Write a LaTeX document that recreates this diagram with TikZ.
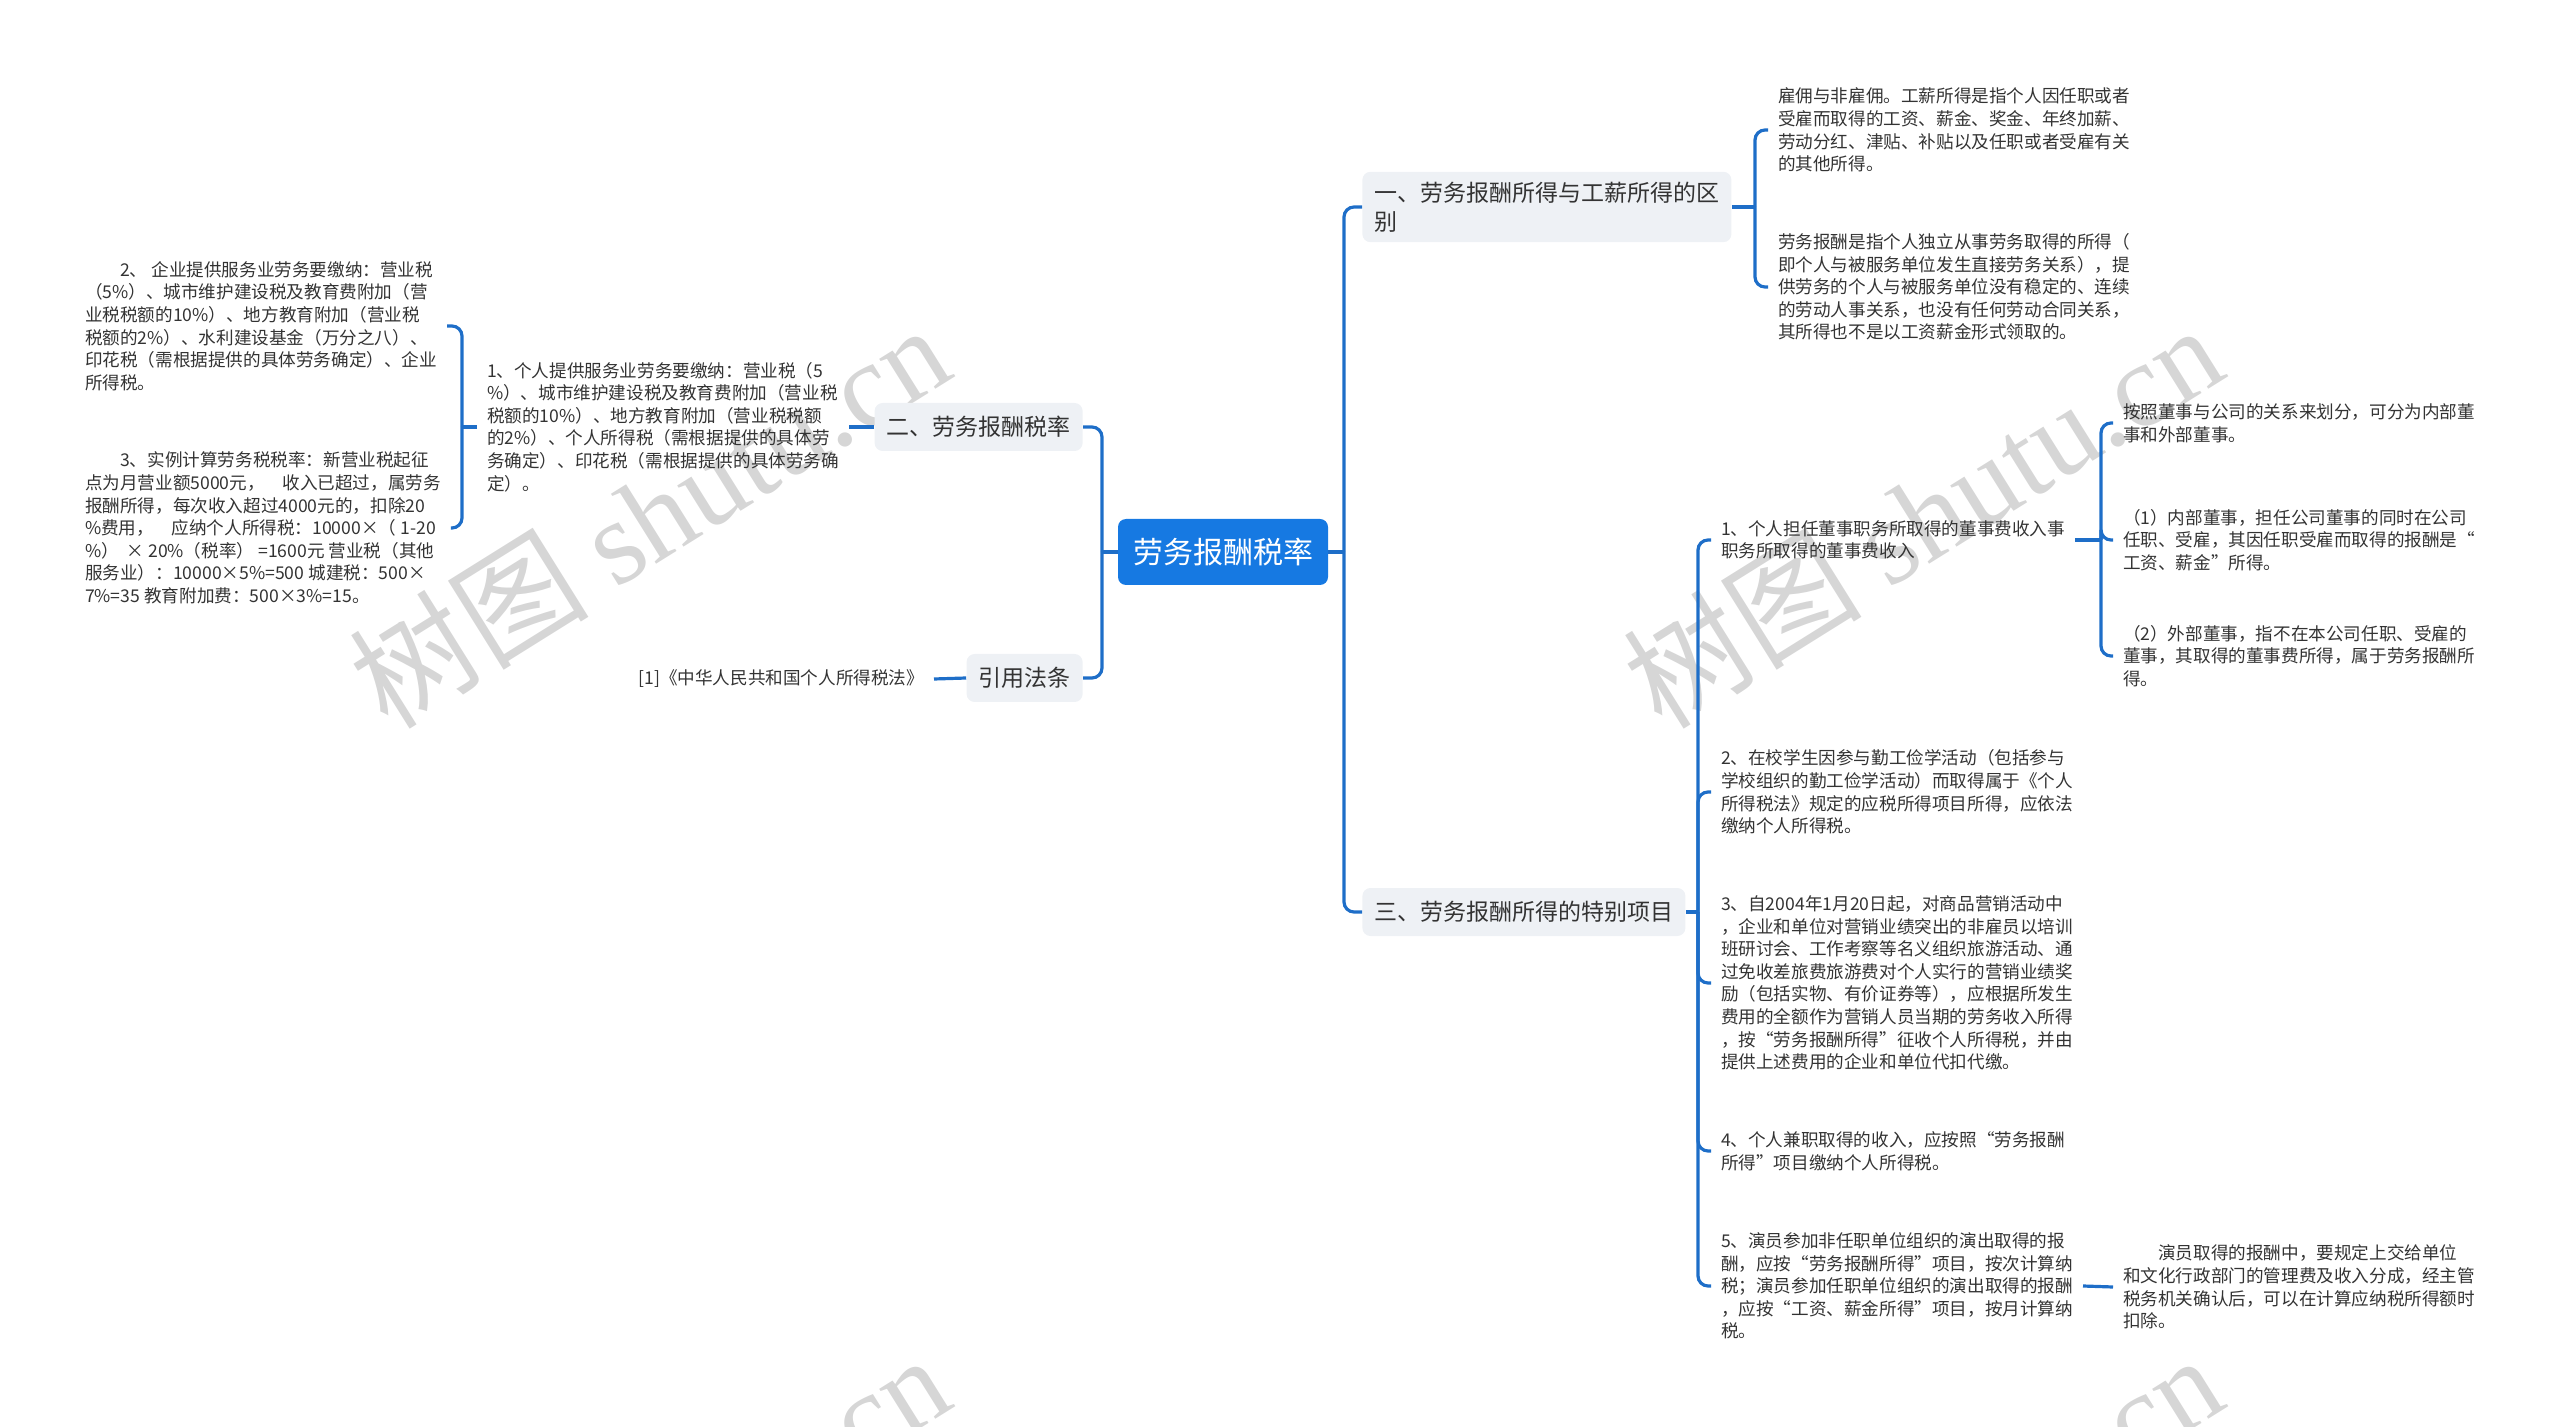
\documentclass[tikz,border=0pt]{standalone}
\usepackage{fontspec}
\setmainfont{Noto Sans CJK SC}
\newfontfamily\markserif{Liberation Serif}

\definecolor{mapblue}{RGB}{22,121,226}
\definecolor{linkblue}{RGB}{30,110,200}
\definecolor{boxgray}{RGB}{238,241,245}
\definecolor{inkgray}{RGB}{51,51,51}
\definecolor{markgray}{RGB}{214,214,214}

\newcommand{\leaffont}{\fontsize{8.8pt}{11.3pt}\selectfont}
\newcommand{\topicfont}{\fontsize{11.5pt}{14.5pt}\selectfont}
\newcommand{\rootfont}{\fontsize{15pt}{18pt}\selectfont}

\begin{document}
\begin{tikzpicture}[x=0.5pt, y=-0.5pt,
	leaf/.style={anchor=west, align=left, inner sep=0pt, outer xsep=5pt, font=\leaffont, text=inkgray},
	topic/.style={fill=boxgray, rounded corners=4pt, inner xsep=6pt, inner ysep=5pt, minimum height=24pt, align=left, font=\topicfont, text=inkgray},
	hub/.style={fill=mapblue, rounded corners=4pt, minimum width=105pt, minimum height=33pt, font=\rootfont, text=white},
	link/.style={draw=linkblue, line width=1.6pt, rounded corners=5pt},
	wmark/.style={rotate=32, text=markgray, font=\fontsize{60pt}{60pt}\selectfont}]

		\useasboundingbox (0,0) rectangle (2560,1427);

		% watermarks
		\node (mark1) [wmark] at (649,515) {树图 {\markserif shutu.cn}};
		\node (mark2) [wmark] at (1922,515) {树图 {\markserif shutu.cn}};
		\node (mark3) [wmark] at (649,1545) {树图 {\markserif shutu.cn}};
		\node (mark4) [wmark] at (1922,1545) {树图 {\markserif shutu.cn}};

		\node (rectroot) [hub] at (1223,552) {劳务报酬税率};

		\node (rectdiff) [topic, anchor=west] at (1362,207) {一、劳务报酬所得与工薪所得的区\\别};
		\node (rectspecial) [topic, anchor=west] at (1362,912) {三、劳务报酬所得的特别项目};
		\node (rectrate) [topic, anchor=east] at (1083,427) {二、劳务报酬税率};
		\node (rectlaw) [topic, anchor=east] at (1083,678) {引用法条};

		% left side
		\node (txtperson) [leaf] at (477,427) {1、个人提供服务业劳务要缴纳：营业税（5\\
			\%）、城市维护建设税及教育费附加（营业税\\
			税额的10\%）、地方教育附加（营业税税额\\
			的2\%）、个人所得税（需根据提供的具体劳\\
			务确定）、印花税（需根据提供的具体劳务确\\
			定）。};
		\node (txtcompany) [leaf] at (75,326) {　　2、 企业提供服务业劳务要缴纳：营业税\\
			（5\%）、城市维护建设税及教育费附加（营\\
			业税税额的10\%）、地方教育附加（营业税\\
			税额的2\%）、水利建设基金（万分之八）、\\
			印花税（需根据提供的具体劳务确定）、企业\\
			所得税。};
		\node (txtexample) [leaf] at (75,528) {　　3、实例计算劳务税税率：新营业税起征\\
			点为月营业额5000元，　收入已超过，属劳务\\
			报酬所得，每次收入超过4000元的，扣除20\\
			\%费用，　应纳个人所得税：10000×（ 1-20\\
			\%）\ \ × 20\%（税率）\ =1600元 营业税（其他\\
			服务业）：10000×5\%=500 城建税：500×\\
			7\%=35 教育附加费：500×3\%=15。};
		\node (txtlaw) [leaf, anchor=east] at (934,679) {[1]《中华人民共和国个人所得税法》};

		% right side, first branch
		\node (txtwage) [leaf] at (1768,130) {雇佣与非雇佣。工薪所得是指个人因任职或者\\
			受雇而取得的工资、薪金、奖金、年终加薪、\\
			劳动分红、津贴、补贴以及任职或者受雇有关\\
			的其他所得。};
		\node (txtlabor) [leaf] at (1768,287) {劳务报酬是指个人独立从事劳务取得的所得（\\
			即个人与被服务单位发生直接劳务关系），提\\
			供劳务的个人与被服务单位没有稳定的、连续\\
			的劳动人事关系，也没有任何劳动合同关系，\\
			其所得也不是以工资薪金形式领取的。};

		% right side, special items
		\node (txtdirector) [leaf] at (1711,540) {1、个人担任董事职务所取得的董事费收入事\\
			职务所取得的董事费收入};
		\node (txtstudent) [leaf] at (1711,792) {2、在校学生因参与勤工俭学活动（包括参与\\
			学校组织的勤工俭学活动）而取得属于《个人\\
			所得税法》规定的应税所得项目所得，应依法\\
			缴纳个人所得税。};
		\node (txtsales) [leaf] at (1711,983) {3、自2004年1月20日起，对商品营销活动中\\
			，企业和单位对营销业绩突出的非雇员以培训\\
			班研讨会、工作考察等名义组织旅游活动、通\\
			过免收差旅费旅游费对个人实行的营销业绩奖\\
			励（包括实物、有价证券等），应根据所发生\\
			费用的全额作为营销人员当期的劳务收入所得\\
			，按“劳务报酬所得”征收个人所得税，并由\\
			提供上述费用的企业和单位代扣代缴。};
		\node (txtparttime) [leaf] at (1711,1151) {4、个人兼职取得的收入，应按照“劳务报酬\\
			所得”项目缴纳个人所得税。};
		\node (txtactor) [leaf] at (1711,1286) {5、演员参加非任职单位组织的演出取得的报\\
			酬，应按“劳务报酬所得”项目，按次计算纳\\
			税；演员参加任职单位组织的演出取得的报酬\\
			，应按“工资、薪金所得”项目，按月计算纳\\
			税。};

		\node (txtboard) [leaf] at (2113,423) {按照董事与公司的关系来划分，可分为内部董\\
			事和外部董事。};
		\node (txtinner) [leaf] at (2113,540) {（1）内部董事，担任公司董事的同时在公司\\
			任职、受雇，其因任职受雇而取得的报酬是“\\
			工资、薪金”所得。};
		\node (txtouter) [leaf] at (2113,656) {（2）外部董事，指不在本公司任职、受雇的\\
			董事，其取得的董事费所得，属于劳务报酬所\\
			得。};
		\node (txtdeduct) [leaf] at (2113,1287) {　　演员取得的报酬中，要规定上交给单位\\
			和文化行政部门的管理费及收入分成，经主管\\
			税务机关确认后，可以在计算应纳税所得额时\\
			扣除。};

		% junctions
		\coordinate (rootright) at (1344,552);
		\coordinate (rootleft) at (1102,552);
		\coordinate (forkdiff) at (1755,207);
		\coordinate (forkspecial) at (1698,912);
		\coordinate (forkdirector) at (2101,540);
		\coordinate (forkperson) at (462,427);

		\draw [link] (rectroot.east) -- (rootright);
		\draw [link] (rootright) |- (rectdiff.west);
		\draw [link] (rootright) |- (rectspecial.west);
		\draw [link] (rectroot.west) -- (rootleft);
		\draw [link] (rootleft) |- (rectrate.east);
		\draw [link] (rootleft) |- (rectlaw.east);

		\draw [link] (rectrate.west) -- (txtperson.east);
		\draw [link] (txtperson.west) -- (forkperson);
		\draw [link] (forkperson) |- (txtcompany.east);
		\draw [link] (forkperson) |- (txtexample.east);
		\draw [link] (rectlaw.west) -- (txtlaw.east);

		\draw [link] (rectdiff.east) -- (forkdiff);
		\draw [link] (forkdiff) |- (txtwage.west);
		\draw [link] (forkdiff) |- (txtlabor.west);

		\draw [link] (rectspecial.east) -- (forkspecial);
		\foreach \item in {txtdirector,txtstudent,txtsales,txtparttime,txtactor}
			\draw [link] (forkspecial) |- (\item.west);

		\draw [link] (txtdirector.east) -- (forkdirector);
		\foreach \item in {txtboard,txtinner,txtouter}
			\draw [link] (forkdirector) |- (\item.west);

		\draw [link] (txtactor.east) -- (txtdeduct.west);

\end{tikzpicture}
\end{document}
